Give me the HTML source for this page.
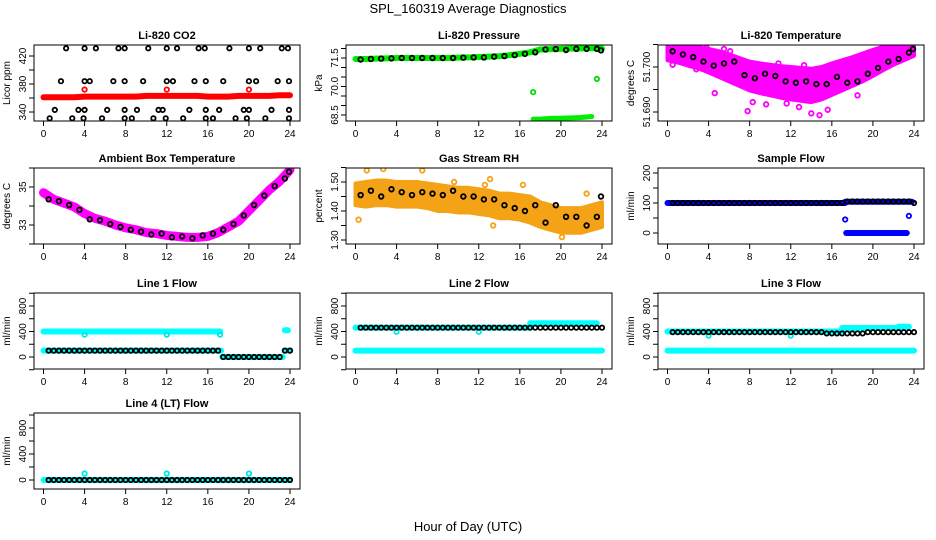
<!DOCTYPE html>
<html><head><meta charset="utf-8"><title>SPL_160319 Average Diagnostics</title>
<style>
html,body{margin:0;padding:0;background:#fff;}
svg{display:block;font-family:"Liberation Sans",Arial,sans-serif;}
</style></head>
<body>
<svg id="chart" xmlns="http://www.w3.org/2000/svg" width="936" height="540" viewBox="0 0 936 540">
<rect x="0" y="0" width="936" height="540" fill="#fff"/>
<text x="468" y="13" text-anchor="middle" font-size="13">SPL_160319  Average Diagnostics</text>
<text x="468" y="531" text-anchor="middle" font-size="13">Hour of Day (UTC)</text>
</svg>
<script>
// ---------- data ----------
const hours = [0,1,2,3,4,5,6,7,8,9,10,11,12,13,14,15,16,17,18,19,20,21,22,23,24];
const bhours = [0.5,1.5,2.5,3.5,4.5,5.5,6.5,7.5,8.5,9.5,10.5,11.5,12.5,13.5,14.5,15.5,16.5,17.5,18.5,19.5,20.5,21.5,22.5,23.5,23.9];
const t48 = [0.5,1,1.5,2,2.5,3,3.5,4,4.5,5,5.5,6,6.5,7,7.5,8,8.5,9,9.5,10,10.5,11,11.5,12,12.5,13,13.5,14,14.5,15,15.5,16,16.5,17,17.5,18,18.5,19,19.5,20,20.5,21,21.5,22,22.5,23,23.5,24];
const xTicks = [0,4,8,12,16,20,24];

// CO2
const co2Red = [361,361,361,361,362,362,362,362,362,362,363,363,363,363,363,363,362,362,362,363,363,363,363,364,364];
const co2RedOutT = [4,12,20];
const co2RedOutV = [372,372,372];
const co2BlackT = [2.2,4,5.1,7.3,7.9,10.2,12,13,15.1,15.7,18.1,20,21.1,23.2,23.8,
 1.7,4,4.5,6.8,7.9,9.7,12,12.6,14.7,15.8,17.5,20,20.7,22.8,23.9,
 1.1,3.4,4,6.2,7.9,9.1,11.2,11.6,14.2,15.8,17.1,19.5,20,22.2,23.9,
 0.6,2.8,3.9,5.7,7.9,8.6,10.7,11.9,13.6,15.8,16.5,18.7,19.8,21.6,23.9];
const co2BlackV = [431,431,431,431,431,431,431,431,431,431,431,431,431,431,431,
 384,384,384,384,384,384,384,384,384,384,384,384,384,384,384,
 343,343,343,343,343,343,343,343,343,343,343,343,343,343,343,
 331,331,331,331,331,331,331,331,331,331,331,331,331,331,331];

// Pressure
const presGreen = [71.45,71.45,71.47,71.48,71.5,71.5,71.5,71.5,71.5,71.5,71.52,71.53,71.55,71.57,71.6,71.65,71.72,71.8,71.95,71.97,71.98,72.0,72.0,72.02,72.0];
const presLowT = [17.3,18,19,20,21,22,23];
const presLowV = [68.28,68.28,68.32,68.33,68.35,68.37,68.42];
const presOutT = [17.3,23.5];
const presOutV = [69.7,70.4];
const presBlack = [71.42,71.45,71.47,71.48,71.5,71.5,71.5,71.5,71.5,71.5,71.52,71.53,71.53,71.57,71.6,71.65,71.72,71.8,71.95,71.97,71.92,71.98,71.98,71.98,71.9];

// Li-820 temperature
const tempHi = [51.7050,51.7050,51.7048,51.7045,51.7040,51.7035,51.7028,51.7020,51.7012,51.7008,51.7005,51.7002,51.7000,51.6998,51.6996,51.7000,51.7008,51.7015,51.7022,51.7030,51.7038,51.7045,51.7050,51.7052,51.7055];
const tempLo = [51.7015,51.7010,51.7003,51.6997,51.6988,51.6978,51.6968,51.6958,51.6948,51.6942,51.6937,51.6932,51.6928,51.6925,51.6922,51.6928,51.6938,51.6948,51.6958,51.6968,51.6980,51.6993,51.7005,51.7015,51.7025];
const tempOutT = [0.5,2.8,4.6,7.8,9.6,12.8,14,14.8,18.5,1.2,5.5,6.1,10.8,11.6,13.3,15.6,17.2,3.8,8.3];
const tempOutV = [51.7005,51.6995,51.6942,51.6902,51.6917,51.6911,51.6897,51.6893,51.6937,51.7048,51.7040,51.7035,51.7008,51.6919,51.7004,51.6905,51.7012,51.7043,51.6922];
const tempBlack = [51.7035,51.7028,51.7022,51.7012,51.7003,51.7008,51.7012,51.6982,51.6975,51.6985,51.6980,51.6968,51.6965,51.6968,51.6962,51.6962,51.6978,51.6965,51.6968,51.6985,51.6998,51.7012,51.7018,51.7032,51.7040];

// Ambient box temperature
const ambMag = [34.7,34.35,34.15,33.95,33.6,33.35,33.2,33.0,32.85,32.75,32.6,32.55,32.45,32.4,32.35,32.35,32.4,32.6,32.9,33.2,33.75,34.3,34.85,35.3,35.9];
const ambBlack = [34.35,34.25,34.05,33.8,33.3,33.25,33.05,32.9,32.75,32.65,32.5,32.55,32.35,32.4,32.3,32.45,32.55,32.75,33.05,33.5,34.05,34.55,35.05,35.45,35.8];

// Gas stream RH
const rhHi = [1.495,1.5,1.505,1.505,1.5,1.5,1.5,1.495,1.49,1.485,1.48,1.48,1.475,1.47,1.46,1.46,1.455,1.45,1.43,1.42,1.41,1.41,1.41,1.42,1.43];
const rhLo = [1.42,1.415,1.42,1.42,1.415,1.415,1.415,1.41,1.4,1.4,1.395,1.395,1.39,1.385,1.375,1.375,1.37,1.36,1.345,1.335,1.325,1.325,1.325,1.335,1.345];
const rhOutT = [0.3,1.1,2.7,6.5,9.6,12.6,13.1,13.4,20.1,22.5,16.3];
const rhOutV = [1.37,1.54,1.545,1.54,1.5,1.49,1.51,1.35,1.31,1.46,1.49];
const rhBlack = [1.455,1.47,1.45,1.475,1.465,1.455,1.465,1.46,1.455,1.47,1.45,1.45,1.44,1.44,1.42,1.41,1.40,1.42,1.36,1.42,1.38,1.38,1.35,1.38,1.45];

// Sample flow
const sfHiStart = [0,17.3];
const sfHiEnd = [17.3,23.8];
const sfHiVal = [100,104];
const sfLoStart = [17.4];
const sfLoEnd = [23.3];
const sfLoVal = [0];
const sfOutT = [17.3,23.5];
const sfOutV = [45,57];
const sfBlack = [100,100,100,100,100,100,100,100,100,100,100,100,100,100,100,100,100,100,100,100,100,100,100,100,100,100,100,100,100,100,100,100,100,100,105,105,105,105,105,105,105,105,105,105,105,105,105,100];

// Line 1 flow
const l1HiStart = [0,23.5];
const l1HiEnd = [17.2,23.8];
const l1HiVal = [400,420];
const l1LoStart = [0,17.4,23.6];
const l1LoEnd = [17.3,23.3,24];
const l1LoVal = [100,0,100];
const l1OutT = [4,12,17.2];
const l1OutV = [350,350,350];
const l1Black = [100,100,100,100,100,100,100,100,100,100,100,100,100,100,100,100,100,100,100,100,100,100,100,100,100,100,100,100,100,100,100,100,100,100,0,0,0,0,0,0,0,0,0,0,0,0,100,100];

// Line 2 flow
const l2HiStart = [0,17];
const l2HiEnd = [17,23.5];
const l2HiVal = [460,530];
const l2LoStart = [0];
const l2LoEnd = [24];
const l2LoVal = [100];
const l2OutT = [4,12];
const l2OutV = [395,395];
const l2Black = [460,460,460,460,460,460,460,460,460,460,460,460,460,460,460,460,460,460,460,460,460,460,460,460,460,460,460,460,460,460,460,460,460,460,460,460,460,460,460,460,460,460,460,460,460,460,460,460];

// Line 3 flow
const l3HiStart = [0,17,22.5];
const l3HiEnd = [17,22.5,23.5];
const l3HiVal = [400,455,475];
const l3LoStart = [0];
const l3LoEnd = [24];
const l3LoVal = [100];
const l3OutT = [4,12];
const l3OutV = [335,335];
const l3Black = [390,390,390,390,390,390,390,390,390,390,390,390,390,390,390,390,390,390,390,390,390,390,390,390,390,390,390,390,390,390,370,370,370,370,370,370,370,370,390,390,390,390,390,390,390,390,390,390];

// Line 4 flow
const l4LoStart = [0];
const l4LoEnd = [24];
const l4LoVal = [0];
const l4OutT = [4,12,20];
const l4OutV = [100,100,100];
const l4Black = [0,0,0,0,0,0,0,0,0,0,0,0,0,0,0,0,0,0,0,0,0,0,0,0,0,0,0,0,0,0,0,0,0,0,0,0,0,0,0,0,0,0,0,0,0,0,0,0];

// ---------- drawing ----------
const NS = "http://www.w3.org/2000/svg";
const svg = document.getElementById("chart");
const colLeft = [34,346,658];
const rowTop = [45,168,293,413];
const BW = 266, BH = 76;

function mk(tag, attrs, parent){
  const e = document.createElementNS(NS, tag);
  for (const k in attrs) e.setAttribute(k, attrs[k]);
  parent.appendChild(e);
  return e;
}

function makePanel(id, col, row, title, ylab, v1, p1, v2, p2, ticks, labels){
  const L = colLeft[col], T = rowTop[row];
  const g = mk("g", {}, svg);
  
  
  const x = t => L + 9.5 + t * (246.5 / 24);
  const y = v => T + p1 + (v - v1) * (p2 - p1) / (v2 - v1);
  const cp = mk("clipPath", {id: "clip-" + id}, g);
  mk("rect", {x: L, y: T, width: BW, height: BH}, cp);
  const plot = mk("g", {"clip-path": "url(#clip-" + id + ")"}, g);
  
  
  const box = mk("rect", {x: L, y: T, width: BW, height: BH, fill: "none", stroke: "#000", "stroke-width": 1}, g);
  
  
  const tt = mk("text", {x: L + BW / 2, y: T - 6, "text-anchor": "middle", "font-size": 11, "font-weight": "bold"}, g);
  tt.textContent = title;
  
  
  const yl = mk("text", {transform: "translate(" + (L - 24) + "," + (T + BH / 2) + ") rotate(-90)", "text-anchor": "middle", "font-size": 10}, g);
  yl.textContent = ylab;
  
  
  ticks.forEach((v, i) => {
    const py = y(v);
    if (py < T - 1 || py > T + BH + 1) return;
    const tk = mk("line", {x1: L - 5, x2: L, y1: py, y2: py, stroke: "#000"}, g);
    
    
    if (labels[i] !== "") {
      const lb = mk("text", {transform: "translate(" + (L - 8) + "," + py + ") rotate(-90)", "text-anchor": "middle", "font-size": 10}, g);
      lb.textContent = labels[i];
      
      
    }
  });
  xTicks.forEach(t => {
    const tk = mk("line", {x1: x(t), x2: x(t), y1: T + BH, y2: T + BH + 5, stroke: "#000"}, g);
    
    
    const lb = mk("text", {x: x(t), y: T + BH + 16, "text-anchor": "middle", "font-size": 10}, g);
    lb.textContent = String(t);
    
    
  });
  return {x, y, plot, id};
}

function band(P, ts, hi, lo, color, name){
  const pts = ts.map((t, i) => P.x(t) + "," + P.y(hi[i])).concat(ts.slice().reverse().map((t, j) => P.x(t) + "," + P.y(lo[ts.length - 1 - j])));
  const pg = mk("polygon", {points: pts.join(" "), fill: color, stroke: color, "stroke-width": 4, "stroke-linejoin": "round"}, P.plot);
  
  
}
function dense(P, ts, vs, color, w, name){
  const pl = mk("polyline", {points: ts.map((t, i) => P.x(t) + "," + P.y(vs[i])).join(" "), fill: "none", stroke: color, "stroke-width": w, "stroke-linecap": "round", "stroke-linejoin": "round"}, P.plot);
  
  
}
function segs(P, s, e, v, color, w, name){
  s.forEach((st, i) => {
    const ln = mk("line", {x1: P.x(st), x2: P.x(e[i]), y1: P.y(v[i]), y2: P.y(v[i]), stroke: color, "stroke-width": w, "stroke-linecap": "round"}, P.plot);
    
    
  });
}
function pts(P, ts, vs, color, r, name){
  ts.forEach((t, i) => {
    const c = mk("circle", {cx: P.x(t), cy: P.y(vs[i]), r: r, fill: "none", stroke: color, "stroke-width": 1.8}, P.plot);
    
    
  });
}

const flowTicks = [-200,0,200,400,600,800,1000];
const flowLabels = ["","0","","400","","800",""];

// Panel 1
let P = makePanel("co2", 0, 0, "Li-820 CO2", "Licor ppm", 420, 11, 340, 67, [340,360,380,400,420,440], ["340","","380","","420",""]);
dense(P, hours, co2Red, "#ff0000", 6, "red-series");
pts(P, co2RedOutT, co2RedOutV, "#ff0000", 2.2, "red-outlier");
pts(P, co2BlackT, co2BlackV, "#000", 2.2, "black-point");

// Panel 2
P = makePanel("pressure", 1, 0, "Li-820 Pressure", "kPa", 71.5, 13, 68.5, 70, [68.5,69,69.5,70,70.5,71,71.5,72], ["68.5","","","70.0","","","71.5",""]);
dense(P, hours, presGreen, "#00ee00", 6, "green-series");
dense(P, presLowT, presLowV, "#00ee00", 5, "green-low-series");
pts(P, presOutT, presOutV, "#00dd00", 2.2, "green-outlier");
pts(P, bhours, presBlack, "#000", 2.3, "black-point");

// Panel 3
P = makePanel("licor-temp", 2, 0, "Li-820 Temperature", "degrees C", 51.700, 22, 51.690, 67, [51.685,51.690,51.695,51.700,51.705], ["","51.690","","51.700",""]);
band(P, hours, tempHi, tempLo, "#ff00ff", "magenta-cloud");
pts(P, tempOutT, tempOutV, "#ff00ff", 2.3, "magenta-outlier");
pts(P, bhours, tempBlack, "#000", 2.3, "black-point");

// Panel 4
P = makePanel("ambient-temp", 0, 1, "Ambient Box Temperature", "degrees C", 35, 19, 33, 57, [32,33,34,35,36], ["","33","","35",""]);
dense(P, hours, ambMag, "#ff00ff", 9, "magenta-series");
pts(P, bhours, ambBlack, "#000", 2.3, "black-point");

// Panel 5
P = makePanel("rh", 1, 1, "Gas Stream RH", "percent", 1.50, 14, 1.30, 72, [1.30,1.35,1.40,1.45,1.50,1.55], ["1.30","","1.40","","1.50",""]);
band(P, hours, rhHi, rhLo, "#f5a316", "orange-cloud");
pts(P, rhOutT, rhOutV, "#f5a316", 2.3, "orange-outlier");
pts(P, bhours, rhBlack, "#000", 2.3, "black-point");

// Panel 6
P = makePanel("sample-flow", 2, 1, "Sample Flow", "ml/min", 200, 5, 0, 65, [-50,0,50,100,150,200], ["","0","","100","","200"]);
segs(P, sfHiStart, sfHiEnd, sfHiVal, "#0000ff", 6, "blue-series");
segs(P, sfLoStart, sfLoEnd, sfLoVal, "#0000ff", 6, "blue-low-series");
pts(P, sfOutT, sfOutV, "#0000ff", 2.2, "blue-outlier");
pts(P, t48, sfBlack, "#000", 2.2, "black-point");

// Panel 7
P = makePanel("line1-flow", 0, 2, "Line 1 Flow", "ml/min", 800, 13, 0, 64, flowTicks, flowLabels);
segs(P, l1HiStart, l1HiEnd, l1HiVal, "#00ffff", 6, "cyan-high-series");
segs(P, l1LoStart, l1LoEnd, l1LoVal, "#00ffff", 6, "cyan-low-series");
pts(P, l1OutT, l1OutV, "#00e5e5", 2.2, "cyan-outlier");
pts(P, t48, l1Black, "#000", 2.2, "black-point");

// Panel 8
P = makePanel("line2-flow", 1, 2, "Line 2 Flow", "ml/min", 800, 13, 0, 64, flowTicks, flowLabels);
segs(P, l2HiStart, l2HiEnd, l2HiVal, "#00ffff", 6, "cyan-high-series");
segs(P, l2LoStart, l2LoEnd, l2LoVal, "#00ffff", 6, "cyan-low-series");
pts(P, l2OutT, l2OutV, "#00e5e5", 2.2, "cyan-outlier");
pts(P, t48, l2Black, "#000", 2.2, "black-point");

// Panel 9
P = makePanel("line3-flow", 2, 2, "Line 3 Flow", "ml/min", 800, 13, 0, 64, flowTicks, flowLabels);
segs(P, l3HiStart, l3HiEnd, l3HiVal, "#00ffff", 6, "cyan-high-series");
segs(P, l3LoStart, l3LoEnd, l3LoVal, "#00ffff", 6, "cyan-low-series");
pts(P, l3OutT, l3OutV, "#00e5e5", 2.2, "cyan-outlier");
pts(P, t48, l3Black, "#000", 2.2, "black-point");

// Panel 10
P = makePanel("line4-flow", 0, 3, "Line 4 (LT) Flow", "ml/min", 800, 15, 0, 67, flowTicks, flowLabels);
segs(P, l4LoStart, l4LoEnd, l4LoVal, "#00ffff", 6, "cyan-series");
pts(P, l4OutT, l4OutV, "#00e5e5", 2.2, "cyan-outlier");
pts(P, t48, l4Black, "#000", 2.2, "black-point");
</script>
</body></html>
